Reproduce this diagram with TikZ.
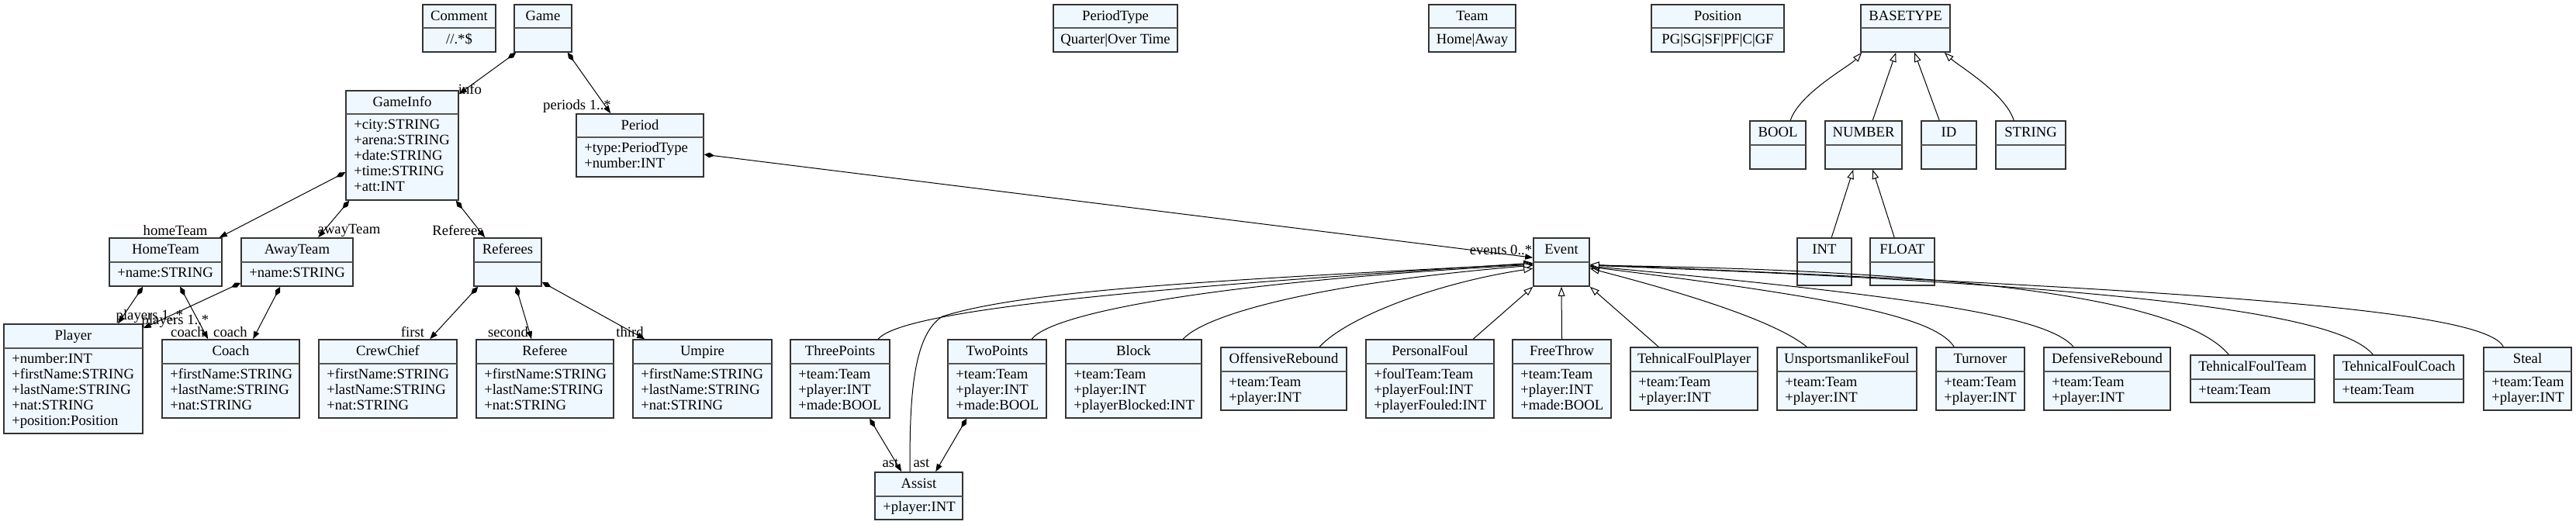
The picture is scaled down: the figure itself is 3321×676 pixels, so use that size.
\documentclass[tikz,border=0pt]{standalone}
\usepackage{fontspec}
\setmainfont{Liberation Serif}
\usetikzlibrary{arrows.meta,fit,calc}
\definecolor{clsfill}{HTML}{F0F8FF}
\definecolor{clsline}{HTML}{333333}
\definecolor{divcol}{HTML}{555555}
\tikzset{
  clsbox/.style={draw=clsline, fill=clsfill, line width=1.2pt, inner sep=0pt},
  divline/.style={draw=divcol, line width=1.2pt},
  txt/.style={inner sep=0pt, font=\fontsize{14}{15}\selectfont},
  lbl/.style={inner sep=0pt, font=\fontsize{14}{15}\selectfont},
  comp/.style={line width=0.75pt, arrows={Diamond[length=10pt,width=5pt]-Triangle[length=7.5pt,width=5.5pt]}},
  gen/.style={line width=0.75pt, arrows={-Triangle[fill=white,length=9pt,width=6.5pt]}}
}
% name, x1, y1, x2, ydiv, y2, title, attribute list
\newcommand\ucls[8]{%
  \node[clsbox, fit={(#2,#3) (#4,#6)}] (#1) {};
  \draw[divline] (#2,#5) -- (#4,#5);
  \node[txt, anchor=base] (#1-t) at ({(#2+#4)/2},#3+20) {#7};
  \foreach \aa [count=\ii] in {#8} {\node[txt, anchor=base west] (#1-a\ii) at (#2+10,#5+19+20*\ii-20) {\aa};}
}
% enumeration box: centred value text
\newcommand\uenum[8]{%
  \node[clsbox, fit={(#2,#3) (#4,#6)}] (#1) {};
  \draw[divline] (#2,#5) -- (#4,#5);
  \node[txt, anchor=base] (#1-t) at ({(#2+#4)/2},#3+20) {#7};
  \node[txt, anchor=base] (#1-v) at ({(#2+#4)/2},#5+20) {#8};
}
\begin{document}
\begin{tikzpicture}[x=0.75pt,y=-0.75pt]
\fill[white] (0,0) rectangle (3321,676);
\useasboundingbox (0,0) rectangle (3321,676);

% top row
\uenum{Comment}{545}{6}{639}{36}{67}{Comment}{//.*\$}
\ucls{Game}{663}{6}{737}{36}{67}{Game}{}
\uenum{PeriodType}{1358}{6}{1518}{36}{67}{PeriodType}{Quarter|Over Time}
\uenum{Team}{1842}{6}{1954}{36}{67}{Team}{Home|Away}
\uenum{Position}{2129}{6}{2300}{36}{67}{Position}{PG|SG|SF|PF|C|GF}
\ucls{BASETYPE}{2399}{6}{2514}{36}{67}{BASETYPE}{}

\ucls{GameInfo}{446}{117}{591}{147}{258}{GameInfo}{+city:STRING,+arena:STRING,+date:STRING,+time:STRING,+att:INT}
\ucls{Period}{743}{147}{907}{177}{228}{Period}{+type:PeriodType,+number:INT}

\ucls{BOOL}{2256}{156}{2328}{187}{218}{BOOL}{}
\ucls{NUMBER}{2353}{156}{2452}{187}{218}{NUMBER}{}
\ucls{ID}{2477}{156}{2548}{187}{218}{ID}{}
\ucls{STRING}{2573}{156}{2663}{187}{218}{STRING}{}

\ucls{HomeTeam}{141}{307}{286}{338}{369}{HomeTeam}{+name:STRING}
\ucls{AwayTeam}{311}{307}{455}{338}{369}{AwayTeam}{+name:STRING}
\ucls{Referees}{611}{307}{698}{338}{369}{Referees}{}
\ucls{Event}{1977}{307}{2049}{338}{369}{Event}{}
\ucls{INT}{2317}{307}{2387}{338}{368}{INT}{}
\ucls{FLOAT}{2411}{307}{2494}{338}{368}{FLOAT}{}

\ucls{Player}{5}{418}{184}{449}{559}{Player}{+number:INT,+firstName:STRING,+lastName:STRING,+nat:STRING,+position:Position}
\ucls{Coach}{209}{438}{386}{469}{539}{Coach}{+firstName:STRING,+lastName:STRING,+nat:STRING}
\ucls{CrewChief}{411}{438}{589}{469}{539}{CrewChief}{+firstName:STRING,+lastName:STRING,+nat:STRING}
\ucls{Referee}{614}{438}{791}{469}{539}{Referee}{+firstName:STRING,+lastName:STRING,+nat:STRING}
\ucls{Umpire}{816}{438}{995}{469}{539}{Umpire}{+firstName:STRING,+lastName:STRING,+nat:STRING}

\ucls{ThreePoints}{1019}{438}{1147}{469}{539}{ThreePoints}{+team:Team,+player:INT,+made:BOOL}
\ucls{TwoPoints}{1222}{438}{1349}{469}{539}{TwoPoints}{+team:Team,+player:INT,+made:BOOL}
\ucls{Block}{1374}{438}{1549}{469}{539}{Block}{+team:Team,+player:INT,+playerBlocked:INT}
\ucls{OffensiveRebound}{1574}{448}{1736}{479}{529}{OffensiveRebound}{+team:Team,+player:INT}
\ucls{PersonalFoul}{1761}{438}{1926}{469}{539}{PersonalFoul}{+foulTeam:Team,+playerFoul:INT,+playerFouled:INT}
\ucls{FreeThrow}{1950}{438}{2077}{469}{539}{FreeThrow}{+team:Team,+player:INT,+made:BOOL}
\ucls{TehnicalFoulPlayer}{2102}{448}{2266}{479}{529}{TehnicalFoulPlayer}{+team:Team,+player:INT}
\ucls{UnsportsmanlikeFoul}{2291}{448}{2471}{479}{529}{UnsportsmanlikeFoul}{+team:Team,+player:INT}
\ucls{Turnover}{2496}{448}{2610}{479}{529}{Turnover}{+team:Team,+player:INT}
\ucls{DefensiveRebound}{2635}{448}{2798}{479}{529}{DefensiveRebound}{+team:Team,+player:INT}
\ucls{TehnicalFoulTeam}{2824}{458}{2984}{489}{519}{TehnicalFoulTeam}{+team:Team}
\ucls{TehnicalFoulCoach}{3009}{458}{3176}{489}{519}{TehnicalFoulCoach}{+team:Team}
\ucls{Steal}{3202}{448}{3315}{479}{529}{Steal}{+team:Team,+player:INT}
\ucls{Assist}{1128}{609}{1241}{640}{670}{Assist}{+player:INT}

% compositions
\draw[comp] ($(Game.south west)+(3,0)$) -- ($(GameInfo.north east)+(0,5)$);
\draw[comp] ($(Game.south east)+(-6,0)$) -- ($(Period.north west)+(45,0)$);
\draw[comp] ($(GameInfo.north west)+(0,106)$) -- ($(HomeTeam.north east)+(-4,0)$);
\draw[comp] ($(GameInfo.south west)+(5,0)$) -- ($(AwayTeam.north west)+(100,0)$);
\draw[comp] ($(GameInfo.south east)+(-4,0)$) -- ($(Referees.north west)+(15,0)$);
\draw[comp] ($(HomeTeam.south west)+(44,0)$) -- ($(Player.north west)+(148,0)$);
\draw[comp] ($(HomeTeam.south west)+(92,0)$) -- ($(Coach.north west)+(60,0)$);
\draw[comp] ($(AwayTeam.south west)+(0,-5)$) -- ($(Player.north east)+(0,6)$);
\draw[comp] ($(AwayTeam.south west)+(51,0)$) -- ($(Coach.north west)+(118,0)$);
\draw[comp] ($(Referees.south west)+(6,0)$) -- ($(CrewChief.north west)+(144,0)$);
\draw[comp] ($(Referees.south west)+(55,0)$) -- ($(Referee.north west)+(72,0)$);
\draw[comp] ($(Referees.south east)+(0,-6)$) -- ($(Umpire.north west)+(16,0)$);
\draw[comp] ($(Period.north east)+(0,53)$) -- ($(Event.north west)+(0,26)$);
\draw[comp] ($(ThreePoints.south west)+(103,0)$) -- ($(Assist.north west)+(35,0)$);
\draw[comp] ($(TwoPoints.south west)+(25,0)$) -- ($(Assist.north west)+(79,0)$);

% labels
\node[lbl] (l-info) at (606,115) {info};
\node[lbl] (l-periods) at (744,137) {periods 1..*};
\node[lbl] (l-home) at (226,297) {homeTeam};
\node[lbl] (l-away) at (450,297) {awayTeam};
\node[lbl] (l-refs) at (590,297) {Referees};
\node[lbl] (l-pl1) at (193,408) {players 1..*};
\node[lbl] (l-pl2) at (226,414) {players 1..*};
\node[lbl] (l-co1) at (242,428) {coach};
\node[lbl] (l-co2) at (297,428) {coach};
\node[lbl] (l-first) at (532,428) {first};
\node[lbl] (l-second) at (655,428) {second};
\node[lbl] (l-third) at (812,428) {third};
\node[lbl] (l-events) at (1935,322) {events 0..*};
\node[lbl] (l-ast1) at (1148,597) {ast};
\node[lbl] (l-ast2) at (1188,597) {ast};

% generalizations to Event
\draw[gen] ($(ThreePoints.north west)+(114,0)$) .. controls (1165,398) and (1500,370) .. ($(Event.north west)+(0,33)$);
\draw[gen] ($(Assist.north west)+(46,0)$) .. controls (1172,500) and (1180,430) .. (1215,408) .. controls (1320,375) and (1550,362) .. ($(Event.north west)+(0,34)$);
\draw[gen] ($(TwoPoints.north west)+(109,0)$) .. controls (1355,405) and (1550,365) .. ($(Event.north west)+(0,35)$);
\draw[gen] ($(Block.north west)+(152,0)$) .. controls (1555,405) and (1700,365) .. ($(Event.north west)+(0,36)$);
\draw[gen] ($(OffensiveRebound.north west)+(128,0)$) .. controls (1735,410) and (1850,365) .. ($(Event.north west)+(0,40)$);
\draw[gen] ($(PersonalFoul.north west)+(139,0)$) -- (Event.south west);
\draw[gen] (FreeThrow.north) -- (Event.south);
\draw[gen] ($(TehnicalFoulPlayer.north west)+(37,0)$) -- (Event.south east);
\draw[gen] ($(UnsportsmanlikeFoul.north west)+(39,0)$) .. controls (2290,415) and (2180,380) .. ($(Event.north east)+(0,40)$);
\draw[gen] ($(Turnover.north west)+(24,0)$) .. controls (2495,410) and (2380,385) .. ($(Event.north east)+(0,38)$);
\draw[gen] ($(DefensiveRebound.north west)+(39,0)$) .. controls (2640,410) and (2500,385) .. ($(Event.north east)+(0,37)$);
\draw[gen] ($(TehnicalFoulTeam.north west)+(50,0)$) .. controls (2830,405) and (2650,350) .. ($(Event.north east)+(0,36)$);
\draw[gen] ($(TehnicalFoulCoach.north west)+(51,0)$) .. controls (3020,410) and (2800,370) .. ($(Event.north east)+(0,36)$);
\draw[gen] ($(Steal.north west)+(26,0)$) .. controls (3205,400) and (2850,375) .. ($(Event.north east)+(0,35)$);

% basetype hierarchy
\draw[gen] ($(BOOL.north west)+(53,0)$) .. controls (2320,120) and (2385,85) .. ($(BASETYPE.south west)+(2,0)$);
\draw[gen] ($(NUMBER.north west)+(62,0)$) -- ($(BASETYPE.south west)+(46,0)$);
\draw[gen] ($(ID.north west)+(24,0)$) -- ($(BASETYPE.south west)+(70,0)$);
\draw[gen] ($(STRING.north west)+(24,0)$) .. controls (2585,120) and (2525,85) .. ($(BASETYPE.south east)+(-8,0)$);
\draw[gen] ($(INT.north west)+(45,0)$) -- ($(NUMBER.south west)+(37,0)$);
\draw[gen] ($(FLOAT.north west)+(32,0)$) -- ($(NUMBER.south west)+(62,0)$);
\end{tikzpicture}
\end{document}
